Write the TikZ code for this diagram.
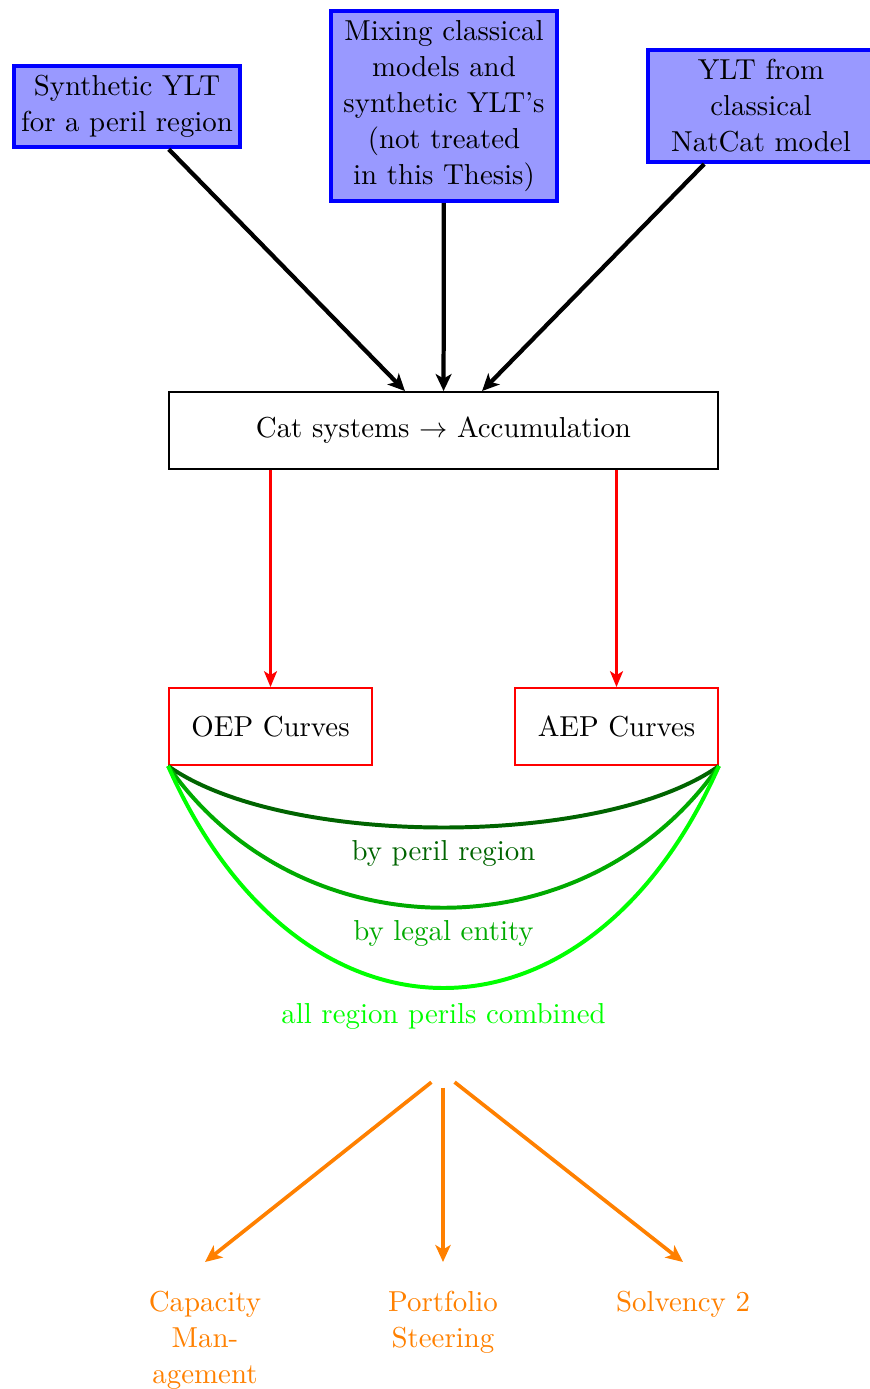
\documentclass[tikz,border=0pt]{standalone}
\usetikzlibrary{arrows.meta}
\definecolor{boxfill}{RGB}{153,153,255}
\definecolor{darkgr}{RGB}{0,100,0}
\definecolor{midgr}{RGB}{0,170,0}
\definecolor{brightgr}{RGB}{0,255,0}
\definecolor{orng}{RGB}{255,128,0}
\tikzset{
  every node/.style={font=\fontsize{10.2pt}{12.7pt}\selectfont},
  source/.style={draw=blue, fill=boxfill, line width=1.6pt, align=center,
    text width=76pt, inner xsep=2pt, inner ysep=3.33pt},
  system/.style={draw=black, thick, minimum width=193.9pt, minimum height=27.1pt},
  curvebox/.style={draw=red, thick, minimum width=71.6pt, minimum height=27.1pt},
  feed/.style={line width=1.5pt, -{Stealth[length=6pt,width=5.6pt,inset=1.6pt]}},
  redarrow/.style={red, thick, -{Stealth[length=5.6pt,width=4.6pt,inset=1.4pt]}},
  split/.style={line width=1.4pt},
  usearrow/.style={orng, line width=1.3pt, -{Stealth[length=6pt,width=5.4pt,inset=1.6pt]}},
  uselabel/.style={orng, align=center, anchor=north, inner xsep=3.33pt, inner ysep=10pt},
}
\begin{document}
\begin{tikzpicture}[x=0.3534pt, y=-0.3534pt]
  \useasboundingbox (0,0) rectangle (870,1389);

  % data sources
  \node[source] (syn) at (127,106.5) {Synthetic YLT\\for a peril region};
  \node[source] (mix) at (444,106) {Mixing classical\\models and\\synthetic YLT's\\(not treated\\in this Thesis)};
  \node[source] (nat) at (761,106) {YLT from\\classical\\NatCat model};

  % accumulation
  \node[system] (cat) at (443.5,430.5) {Cat systems $\rightarrow$ Accumulation};

  \draw[feed] (syn) -- (cat);
  \draw[feed] (mix) -- (cat);
  \draw[feed] (nat) -- (cat);

  % exceedance curves
  \node[curvebox] (oep) at (270.5,726.5) {OEP Curves};
  \node[curvebox] (aep) at (616.5,726.5) {AEP Curves};

  \draw[redarrow] (cat.south -| oep) -- (oep);
  \draw[redarrow] (cat.south -| aep) -- (aep);

  % aggregation levels
  \draw[split, darkgr] (oep.south west) .. controls (284,848) and (603,848) ..
    node[pos=0.5, below=0.5pt, text=darkgr] (lvl1) {by peril region} (aep.south east);
  \draw[split, midgr] (oep.south west) .. controls (300,955) and (587,955) ..
    node[pos=0.5, below=0.5pt, text=midgr] (lvl2) {by legal entity} (aep.south east);
  \draw[split, brightgr] (oep.south west) .. controls (299,1062) and (588,1062) ..
    node[pos=0.5, below=1.5pt, text=brightgr] (lvl3) {all region perils combined} (aep.south east);

  % uses
  \node[inner sep=0pt, minimum width=7.8pt, minimum height=9.9pt] (hub) at (443,1073) {};
  \node[uselabel] (cap) at (205,1262) {Capacity\\Man-\\agement};
  \node[uselabel] (port) at (443,1262) {Portfolio\\Steering};
  \node[uselabel] (solv) at (683,1262) {Solvency 2};

  \draw[usearrow] (hub) -- (cap.north);
  \draw[usearrow] (hub) -- (port.north);
  \draw[usearrow] (hub) -- (solv.north);
\end{tikzpicture}
\end{document}
